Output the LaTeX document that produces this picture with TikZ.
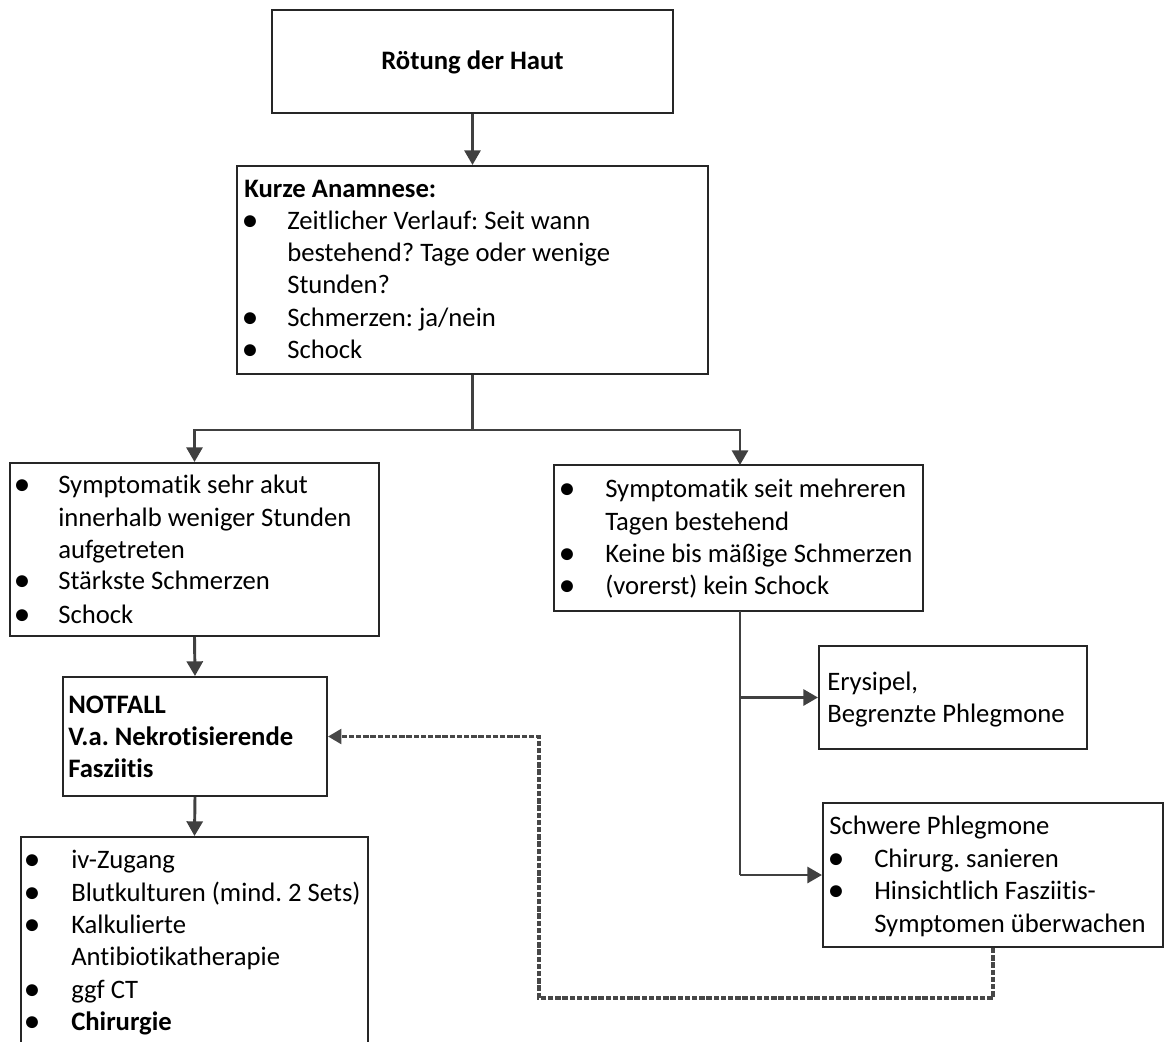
\documentclass[tikz,border=0pt]{standalone}
\usepackage{fontspec}
\setmainfont[RawFeature={-liga,-clig,-dlig}]{Carlito}
\usetikzlibrary{arrows.meta,fit}
\frenchspacing
\begin{document}
\begin{tikzpicture}[x=0.75pt,y=-0.75pt,
  box/.style={draw=black!85, line width=1.5pt, inner sep=0pt},
  txt/.style={inner sep=0pt, anchor=base west, font=\fontsize{20}{24}\selectfont, text=black},
  bul/.style={inner sep=0pt, anchor=base, font=\fontsize{21}{24}\selectfont\bfseries, text=black},
  arr/.style={draw=black!75, line width=2.2pt, -{Triangle[width=12pt,length=11pt]}},
  conn/.style={draw=black!75, line width=2.2pt},
  darr/.style={draw=black!72, line width=2.3pt, dash pattern=on 4pt off 1.4pt, -{Triangle[width=11pt,length=10pt]}}]
\useasboundingbox (0,0) rectangle (1165,1042);
\clip (0,0) rectangle (1165,1042);
% boxes
\node[box, fit={(272,10)(673,113)}] (b1) {};
\node[box, fit={(237,166)(708,374)}] (b2) {};
\node[box, fit={(10,463)(379,636)}] (b3) {};
\node[box, fit={(554,465)(923,611)}] (b4) {};
\node[box, fit={(63,677)(327,796)}] (b5) {};
\node[box, fit={(21,837)(368,1060)}] (b6) {};
\node[box, fit={(819,646)(1087,749)}] (b7) {};
\node[box, fit={(823,803)(1163,947)}] (b8) {};
% box 1
\node[txt, anchor=base, font=\fontsize{20}{24}\selectfont\bfseries] (t1) at (472.5,69) {Rötung der Haut};
% box 2
\node[txt, font=\fontsize{20}{24}\selectfont\bfseries] (t2a) at (244,197) {Kurze Anamnese:};
\node[bul] (p2a) at (250,229) {•};
\node[txt] (t2b) at (287,229) {Zeitlicher Verlauf: Seit wann};
\node[txt] (t2c) at (287,261) {bestehend? Tage oder wenige};
\node[txt] (t2d) at (287,293) {Stunden?};
\node[bul] (p2b) at (250,326) {•};
\node[txt] (t2e) at (287,326) {Schmerzen: ja/nein};
\node[bul] (p2c) at (250,358) {•};
\node[txt] (t2f) at (287,358) {Schock};
% box 3
\node[bul] (p3a) at (22,493) {•};
\node[txt] (t3a) at (58,493) {Symptomatik sehr akut};
\node[txt] (t3b) at (58,526) {innerhalb weniger Stunden};
\node[txt] (t3c) at (58,558) {aufgetreten};
\node[bul] (p3b) at (22,589) {•};
\node[txt] (t3d) at (58,589) {Stärkste Schmerzen};
\node[bul] (p3c) at (22,623) {•};
\node[txt] (t3e) at (58,623) {Schock};
% box 4
\node[bul] (p4a) at (567,497) {•};
\node[txt] (t4a) at (605,497) {Symptomatik seit mehreren};
\node[txt] (t4b) at (605,530) {Tagen bestehend};
\node[bul] (p4b) at (567,562) {•};
\node[txt] (t4c) at (605,562) {Keine bis mäßige Schmerzen};
\node[bul] (p4c) at (567,594) {•};
\node[txt] (t4d) at (605,594) {(vorerst) kein Schock};
% box 5
\node[txt, font=\fontsize{20}{24}\selectfont\bfseries] (t5a) at (68,713) {NOTFALL};
\node[txt, font=\fontsize{20}{24}\selectfont\bfseries] (t5b) at (68,745) {V.a. Nekrotisierende};
\node[txt, font=\fontsize{20}{24}\selectfont\bfseries] (t5c) at (68,777) {Fasziitis};
% box 6
\node[bul] (p6a) at (32,868) {•};
\node[txt] (t6a) at (71,868) {iv-Zugang};
\node[bul] (p6b) at (32,901) {•};
\node[txt] (t6b) at (71,901) {Blutkulturen (mind. 2 Sets)};
\node[bul] (p6c) at (32,933) {•};
\node[txt] (t6c) at (71,933) {Kalkulierte};
\node[txt] (t6d) at (71,965) {Antibiotikatherapie};
\node[bul] (p6d) at (32,998) {•};
\node[txt] (t6e) at (71,998) {ggf CT};
\node[bul] (p6e) at (32,1030) {•};
\node[txt, font=\fontsize{20}{24}\selectfont\bfseries] (t6f) at (71,1030) {Chirurgie};
% box 7
\node[txt] (t7a) at (827,690) {Erysipel,};
\node[txt] (t7b) at (827,722) {Begrenzte Phlegmone};
% box 8
\node[txt] (t8a) at (829,834) {Schwere Phlegmone};
\node[bul] (p8a) at (836,867) {•};
\node[txt] (t8b) at (874,867) {Chirurg. sanieren};
\node[bul] (p8b) at (836,899) {•};
\node[txt] (t8c) at (874,899) {Hinsichtlich Fasziitis-};
\node[txt] (t8d) at (874,932) {Symptomen überwachen};
% connectors
\coordinate (j1) at (472.5,430);
\coordinate (j2) at (740,697.5);
\coordinate (j3) at (740,875);
\coordinate (d1) at (993,998);
\coordinate (d2) at (539,998);
\draw[arr] (b1.south) -- (b2.north);
\draw[conn] (b2.south) -- (j1);
\draw[arr] (j1) -| (b3.north);
\draw[arr] (j1) -| (740,465);
\draw[arr] (b3.south) -- (b5.north);
\draw[arr] (b5.south) -- (b6.north);
\draw[conn] (740,611) -- (j3);
\draw[arr] (j2) -- (b7.west);
\draw[arr] (j3) -- (b8.west);
\draw[darr] (b8.south -| d1) -- (d1) -- (d2) |- (b5.east);
\end{tikzpicture}
\end{document}
